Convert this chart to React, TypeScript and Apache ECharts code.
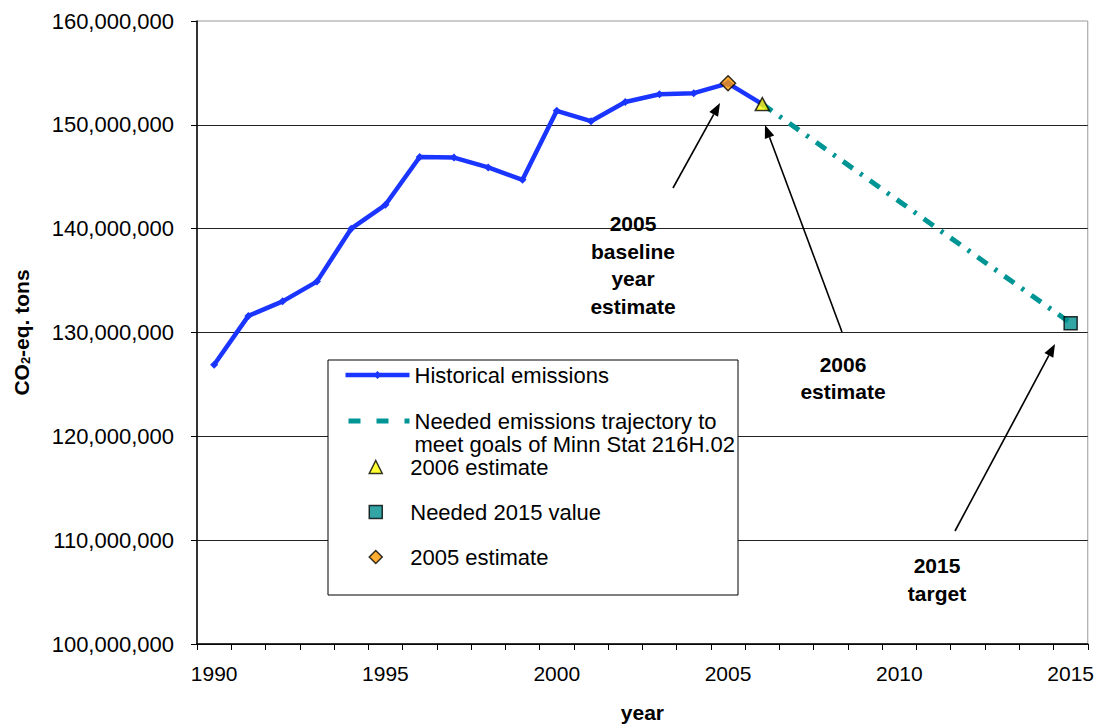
import React, { useEffect, useRef } from "react";
import * as echarts from "echarts";

const FONT = "'Liberation Sans', Arial, sans-serif";

const years = [
  "1990", "1991", "1992", "1993", "1994", "1995", "1996", "1997", "1998",
  "1999", "2000", "2001", "2002", "2003", "2004", "2005", "2006", "2007",
  "2008", "2009", "2010", "2011", "2012", "2013", "2014", "2015",
];

// Historical emissions, 1990..2006 (CO2-eq. tons)
const historical = [
  126900000, 131600000, 133000000, 134900000, 140000000, 142300000,
  146900000, 146850000, 145900000, 144700000, 151350000, 150350000,
  152200000, 152950000, 153050000, 154000000, 152000000,
];

const trajectoryYears = ["2006", "2015"];
const trajectoryValues = [152000000, 130900000];

const est2006 = [["2006", 152000000]];
const needed2015 = [["2015", 130900000]];
const est2005 = [["2005", 154000000]];

const yTicks = { min: 100000000, max: 160000000, interval: 10000000 };

const HIST = "Historical emissions";
const TRAJ = "Needed emissions trajectory to\nmeet goals of Minn Stat 216H.02";
const E2006 = "2006 estimate";
const N2015 = "Needed 2015 value";
const E2005 = "2005 estimate";

function arrow(x1: number, y1: number, x2: number, y2: number) {
  const dx = x2 - x1;
  const dy = y2 - y1;
  const len = Math.hypot(dx, dy);
  const ux = dx / len;
  const uy = dy / len;
  const hl = 13;
  const hw = 5;
  const bx = x2 - ux * hl;
  const by = y2 - uy * hl;
  return [
    {
      type: "line",
      z: 10,
      shape: { x1, y1, x2: bx, y2: by },
      style: { stroke: "#000", lineWidth: 1.6 },
    },
    {
      type: "polygon",
      z: 10,
      shape: {
        points: [
          [x2, y2],
          [bx - uy * hw, by + ux * hw],
          [bx + uy * hw, by - ux * hw],
        ],
      },
      style: { fill: "#000" },
    },
  ];
}

function note(text: string, x: number, y: number, lineHeight: number) {
  return {
    type: "text",
    z: 10,
    x,
    y,
    style: {
      text,
      fontSize: 21,
      fontWeight: "bold",
      fontFamily: FONT,
      fill: "#000",
      align: "center",
      verticalAlign: "middle",
      lineHeight,
    },
  };
}

export default function App() {
  const ref = useRef<HTMLDivElement>(null);

  useEffect(() => {
    if (!ref.current) return;
    const chart = echarts.init(ref.current, null, { renderer: "svg" });
    const legendText = { fontSize: 22, lineHeight: 23, color: "#000", fontFamily: FONT };
    chart.setOption({
      animation: false,
      backgroundColor: "#fff",
      textStyle: { fontFamily: FONT },
      grid: {
        left: 197,
        right: 9,
        top: 21,
        bottom: 83,
        show: true,
        borderColor: "#999",
        borderWidth: 1,
      },
      xAxis: {
        type: "category",
        data: years,
        boundaryGap: true,
        name: "year",
        nameLocation: "middle",
        nameGap: 58,
        nameTextStyle: { fontSize: 21, fontWeight: "bold", color: "#000", fontFamily: FONT },
        axisLine: { lineStyle: { color: "#000", width: 1.5 } },
        axisTick: { show: true, length: 6, lineStyle: { color: "#000" }, interval: 0 },
        axisLabel: {
          interval: (i: number) => i % 5 === 0,
          fontSize: 21,
          color: "#000",
          margin: 19,
          fontFamily: FONT,
        },
        splitLine: { show: false },
      },
      yAxis: {
        type: "value",
        min: yTicks.min,
        max: yTicks.max,
        interval: yTicks.interval,
        name: "{a|CO}{s|2}{a|-eq. tons}",
        nameLocation: "middle",
        nameRotate: 90,
        nameGap: 165,
        nameTextStyle: {
          rich: {
            a: { fontSize: 21, fontWeight: "bold", color: "#000", fontFamily: FONT },
            s: { fontSize: 13, fontWeight: "bold", color: "#000", fontFamily: FONT, padding: [9, 0, 0, 0] },
          },
        },
        axisLine: { show: true, lineStyle: { color: "#000", width: 1.5 } },
        axisTick: { show: true, length: 6, lineStyle: { color: "#000" } },
        axisLabel: {
          fontSize: 22,
          color: "#000",
          margin: 23,
          fontFamily: FONT,
          formatter: (v: number) => v.toLocaleString("en-US"),
        },
        splitLine: { show: true, showMaxLine: false, lineStyle: { color: "#222", width: 1 } },
      },
      legend: [
        {
          data: [
            { name: HIST, lineStyle: { width: 4.5 } },
            {
              name: TRAJ,
              lineStyle: { width: 5, type: [12, 16], dashOffset: -3 },
              itemStyle: { opacity: 0 },
            },
          ],
          orient: "vertical",
          left: 343,
          top: 363.5,
          padding: 0,
          itemWidth: 64,
          itemHeight: 10,
          itemGap: 0,
          selectedMode: false,
          textStyle: legendText,
          formatter: (n: string) => (n === TRAJ ? "\n" + n : n),
          z: 4,
        },
        {
          data: [E2006, N2015, E2005],
          orient: "vertical",
          left: 368.5,
          top: 455.5,
          padding: 0,
          itemWidth: 13,
          itemHeight: 13,
          itemGap: 22,
          selectedMode: false,
          textStyle: { ...legendText, padding: [0, 0, 0, 23] },
          itemStyle: { borderWidth: 1.5, borderColor: "#000" },
          z: 4,
        },
      ],
      graphic: [
        {
          type: "rect",
          z: 1,
          shape: { x: 328, y: 360, width: 410, height: 235 },
          style: { fill: "#fff", stroke: "#000", lineWidth: 1 },
        },
        ...arrow(673, 188, 720, 103),
        ...arrow(842, 332, 765, 125),
        ...arrow(955, 531, 1055, 344),
        note("2005\nbaseline\nyear\nestimate", 633, 265, 27.5),
        note("2006\nestimate", 843, 378, 27),
        note("2015\ntarget", 937, 579, 28),
      ],
      series: [
        {
          name: TRAJ,
          type: "line",
          z: 2,
          data: trajectoryYears.map((y, i) => [y, trajectoryValues[i]]),
          symbol: "none",
          lineStyle: { color: "#009595", width: 5, type: [12, 9, 3, 9] },
          itemStyle: { color: "#009595" },
        },
        {
          name: HIST,
          type: "line",
          z: 3,
          data: historical,
          symbol: "diamond",
          symbolSize: 8,
          lineStyle: { color: "#1a35ff", width: 4.5 },
          itemStyle: { color: "#1a35ff" },
        },
        {
          name: E2006,
          type: "scatter",
          z: 5,
          data: est2006,
          symbol: "triangle",
          symbolSize: [14, 13],
          itemStyle: { color: "#ffff00", borderColor: "#000", borderWidth: 1.5 },
        },
        {
          name: N2015,
          type: "scatter",
          z: 5,
          data: needed2015,
          symbol: "rect",
          symbolSize: 13,
          itemStyle: { color: "#008e8e", borderColor: "#000", borderWidth: 1.5 },
        },
        {
          name: E2005,
          type: "scatter",
          z: 5,
          data: est2005,
          symbol: "diamond",
          symbolSize: 15,
          itemStyle: { color: "#ff9900", borderColor: "#000", borderWidth: 1.5 },
        },
      ],
    });
    return () => chart.dispose();
  }, []);

  return (
    <div
      ref={ref}
      style={{ position: "absolute", left: 0, top: 0, width: 1097, height: 728 }}
    />
  );
}
